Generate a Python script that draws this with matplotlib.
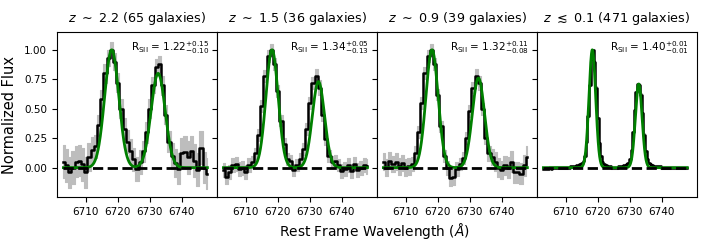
import numpy as np
import matplotlib
matplotlib.use("Agg")
import matplotlib.pyplot as plt

# titre de chaque panneau et rapport [SII]
titres = [r"$z\ \sim\ 2.2$ (65 galaxies)", r"$z\ \sim\ 1.5$ (36 galaxies)",
          r"$z\ \sim\ 0.9$ (39 galaxies)", r"$z\ \lesssim\ 0.1$ (471 galaxies)"]
ratios = [r"R$_{\rm SII}$ = 1.22$^{+0.15}_{-0.10}$", r"R$_{\rm SII}$ = 1.34$^{+0.05}_{-0.13}$",
          r"R$_{\rm SII}$ = 1.32$^{+0.11}_{-0.08}$", r"R$_{\rm SII}$ = 1.40$^{+0.01}_{-0.01}$"]

# grille en longueur d'onde (1 A pour les spectres empiles a grand z)
onde = np.arange(6703, 6749, 1.0)
onde_local = np.arange(6703, 6748.5, 0.5)

flux1 = [0.05, 0.02, -0.04, 0.00, 0.05, 0.06, 0.03, -0.04, 0.09, 0.15, 0.18, 0.36, 0.58, 0.80, 0.93, 1.00,
         0.90, 0.72, 0.50, 0.33, 0.22, 0.14, 0.07, -0.01, 0.05, 0.14, 0.30, 0.50, 0.70, 0.85, 0.88, 0.70,
         0.45, 0.22, 0.10, 0.04, -0.01, 0.12, 0.13, 0.09, 0.14, 0.06, -0.02, 0.17, 0.00, -0.05]
err1 = [0.14, 0.14, 0.13, 0.14, 0.13, 0.13, 0.14, 0.13, 0.12, 0.11, 0.10, 0.09, 0.08, 0.08, 0.07, 0.07,
        0.07, 0.08, 0.08, 0.09, 0.10, 0.10, 0.10, 0.10, 0.10, 0.09, 0.09, 0.08, 0.07, 0.07, 0.07, 0.08,
        0.08, 0.09, 0.11, 0.12, 0.13, 0.13, 0.14, 0.14, 0.13, 0.14, 0.14, 0.14, 0.13, 0.13]

flux2 = [-0.02, -0.08, -0.04, 0.02, 0.03, -0.01, 0.00, -0.04, 0.02, 0.05, 0.12, 0.28, 0.52, 0.78, 0.95, 1.00,
         0.88, 0.65, 0.40, 0.20, 0.07, 0.06, -0.02, 0.02, 0.07, 0.16, 0.33, 0.55, 0.72, 0.78, 0.68, 0.45,
         0.24, 0.10, 0.05, 0.06, 0.02, -0.03, -0.01, 0.02, -0.03, 0.03, -0.02, 0.00, 0.02, 0.01]
err2 = [0.06, 0.06, 0.06, 0.06, 0.06, 0.06, 0.06, 0.06, 0.06, 0.05, 0.05, 0.05, 0.05, 0.05, 0.05, 0.05,
        0.05, 0.05, 0.05, 0.05, 0.05, 0.05, 0.05, 0.05, 0.05, 0.05, 0.05, 0.05, 0.05, 0.06, 0.06, 0.05,
        0.05, 0.05, 0.05, 0.05, 0.05, 0.06, 0.06, 0.06, 0.06, 0.06, 0.06, 0.06, 0.06, 0.06]

flux3 = [0.05, 0.00, 0.06, 0.03, 0.05, 0.01, 0.04, 0.00, 0.01, 0.03, 0.12, 0.30, 0.55, 0.80, 0.95, 1.00,
         0.88, 0.62, 0.35, 0.10, 0.00, -0.09, -0.08, -0.01, 0.03, 0.08, 0.25, 0.48, 0.68, 0.78, 0.72, 0.50,
         0.25, 0.12, 0.09, 0.05, 0.00, -0.02, 0.02, 0.00, 0.05, -0.04, -0.04, -0.05, 0.02, 0.09]
err3 = [0.07, 0.07, 0.07, 0.07, 0.07, 0.07, 0.07, 0.07, 0.07, 0.06, 0.06, 0.05, 0.05, 0.05, 0.05, 0.05,
        0.05, 0.05, 0.05, 0.05, 0.06, 0.07, 0.07, 0.06, 0.05, 0.05, 0.05, 0.05, 0.05, 0.06, 0.06, 0.05,
        0.05, 0.06, 0.07, 0.08, 0.08, 0.08, 0.08, 0.09, 0.09, 0.09, 0.09, 0.09, 0.09, 0.09]

# spectre local, echantillonne a 0.5 A
flux4 = [-0.01, -0.01, -0.01, -0.01, 0.00, -0.01, 0.00, 0.00, 0.00, 0.00, 0.00, 0.00, 0.00, 0.00, 0.00, 0.00,
         0.00, 0.01, 0.01, 0.01, 0.01, 0.02, 0.02, 0.03, 0.04, 0.06, 0.10, 0.22, 0.44, 0.70, 0.92, 1.00,
         0.90, 0.68, 0.42, 0.21, 0.10, 0.05, 0.03, 0.02, 0.01, 0.01, 0.01, 0.00, 0.00, 0.00, 0.00, 0.01,
         0.01, 0.01, 0.02, 0.02, 0.03, 0.04, 0.07, 0.15, 0.30, 0.49, 0.64, 0.71, 0.70, 0.62, 0.46, 0.28,
         0.14, 0.07, 0.04, 0.03, 0.02, 0.01, 0.01, 0.01, 0.01, 0.01, 0.00, 0.00, 0.00, 0.00, 0.00, 0.00,
         0.00, 0.00, 0.00, 0.00, 0.00, 0.00, 0.00, 0.00, 0.00, 0.00, 0.00]
err4 = [0.01] * len(flux4)

# parametres des ajustements gaussiens (centre1, centre2, amplitude1, amplitude2, sigma)
centre1 = [6718.1, 6718.2, 6718.2, 6718.3]
centre2 = [6732.6, 6732.7, 6732.7, 6732.8]
ampl1 = [1.00, 1.00, 1.00, 1.00]
ampl2 = [0.80, 0.73, 0.76, 0.71]
sigmas = [2.2, 1.9, 1.9, 1.05]

ondes = [onde, onde, onde, onde_local]
flux = [flux1, flux2, flux3, flux4]
erreurs = [err1, err2, err3, err4]


def modele(x, c1, c2, a1, a2, s):
    return a1 * np.exp(-0.5 * ((x - c1) / s) ** 2) + a2 * np.exp(-0.5 * ((x - c2) / s) ** 2)


fig, axes = plt.subplots(1, 4, figsize=(7.04, 2.47), dpi=100, sharey=True)
fig.subplots_adjust(left=0.081, right=0.990, top=0.870, bottom=0.202, wspace=0)

for i, ax in enumerate(axes):
    x = ondes[i]
    y = np.array(flux[i])
    e = np.array(erreurs[i])
    ax.fill_between(x, y - e, y + e, step="mid", facecolor="#bdbdbd", edgecolor="#bdbdbd", lw=0.8)
    ax.step(x, y, where="mid", color="k", lw=1.8)
    xf = np.linspace(x[0], x[-1], 600)
    ax.plot(xf, modele(xf, centre1[i], centre2[i], ampl1[i], ampl2[i], sigmas[i]), color="green", lw=2)
    ax.plot([x[0], x[-1]], [0, 0], color="k", ls="--", lw=2)
    ax.set_title(titres[i], fontsize=9.2, pad=7)
    ax.text(0.95, 0.96, ratios[i], transform=ax.transAxes, ha="right", va="top", fontsize=7.5)
    ax.set_xlim(6701, 6751)
    ax.set_xticks([6710, 6720, 6730, 6740])
    ax.tick_params(labelsize=7.5)

axes[0].set_ylim(-0.25, 1.15)
axes[0].set_yticks([0, 0.25, 0.5, 0.75, 1.0])
axes[0].set_ylabel("Normalized Flux", fontsize=10.5, labelpad=5)
fig.text(0.532, 0.065, r"Rest Frame Wavelength ($\AA$)", ha="center", va="center", fontsize=9.9)

fig.savefig("out.png", dpi=100)
